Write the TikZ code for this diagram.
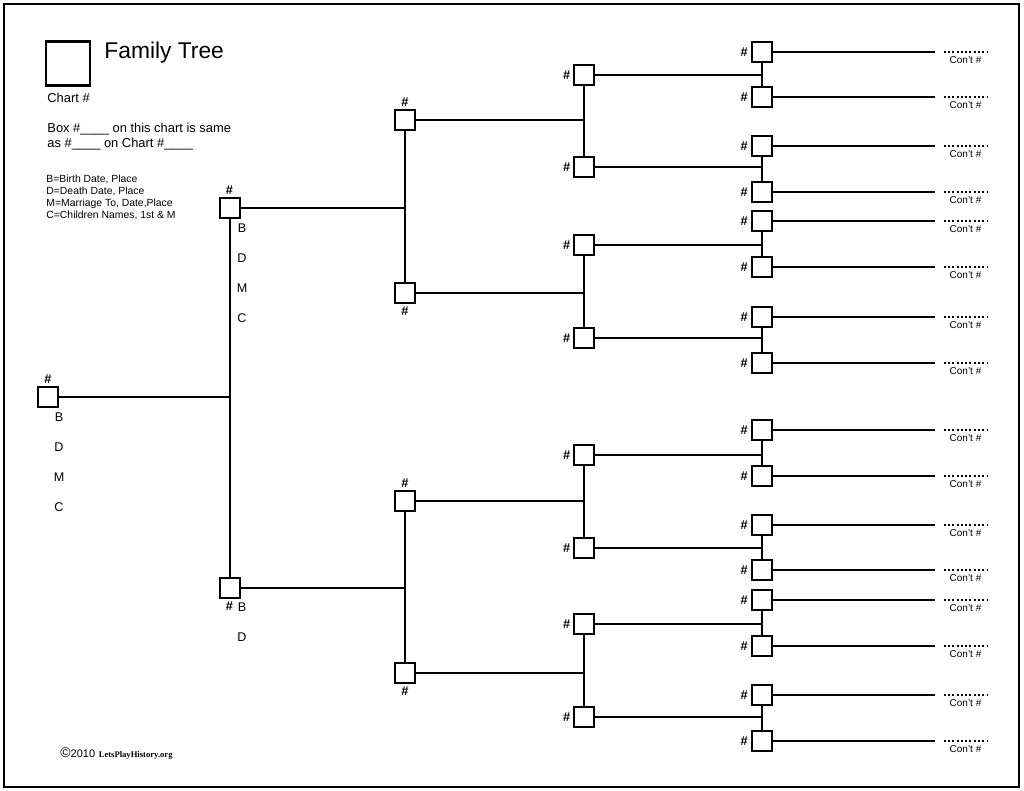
\documentclass[tikz,border=0pt]{standalone}
\usepackage{fontspec}
\setmainfont{Liberation Sans}
\newfontfamily\sitefont{Liberation Serif}
\usetikzlibrary{calc}
\tikzstyle{person}=[draw,line width=1pt,minimum size=10pt,inner sep=0pt]
\tikzstyle{hashmark}=[font=\fontsize{6.4}{7}\selectfont\bfseries,inner sep=1.2pt]
\tikzstyle{link}=[line width=1pt]
\tikzstyle{blank}=[line width=1pt,dash pattern=on 1pt off 1.15pt]
\tikzstyle{cont}=[font=\fontsize{5}{6}\selectfont,minimum width=21.5pt,inner xsep=0pt,inner ysep=2pt,anchor=north]
\tikzstyle{fact}=[font=\fontsize{6.3}{7}\selectfont,inner sep=0pt]
\tikzstyle{note}=[anchor=base west,inner sep=0pt,font=\fontsize{6.45}{7.7}\selectfont]
\newcommand{\newperson}[4][left]{% Syntax: [side of #] {name} {x} {y}
	\node[person,label={[hashmark]#1:\#}] (#2) at (#3,#4) {};
}
\newcommand{\newleaf}[2]{% Syntax: {number} {y}
	\newperson[left]{p#1}{761.5}{#2}
	\coordinate (e#1) at (935,#2);
	\node[cont] (c#1) at (965.5,#2) {Con't \#};
	\draw[blank] (c#1.north west) -- (c#1.north east);
	\draw[link] (p#1) -- (e#1);
}
\newcommand{\facts}[4]{% Syntax: {name} {x} {first y} {letters}
	\foreach \t [count=\k from 0] in {#4} {
	\node[fact] (#1\t) at (#2,#3+30*\k) {\t};
	}
}
\begin{document}
\begin{tikzpicture}[x=0.5pt,y=-0.5pt]
	\useasboundingbox (0,0) rectangle (1024,791);
	\draw[line width=1.2pt] (4,4) rectangle (1019,787);
	% heading
	\node[draw,line width=1.1pt,minimum size=22pt,inner sep=0pt] (chart) at (68,63.5) {};
	\node[note,font=\fontsize{11.4}{13}\selectfont] (title) at (104,59) {Family Tree};
	\node[note] (chartno) at (47,103) {Chart \#};
	\node[note] (same) at (47,133) {Box \#\_\_\_\_ on this chart is same};
	\node[note] (sameb) at (47,148) {as \#\_\_\_\_ on Chart \#\_\_\_\_};
	\foreach \line [count=\k from 0] in {{B=Birth Date, Place},{D=Death Date, Place},{M=Marriage To, Date,Place},{C=Children Names, 1st \& M}} {
	\node[note,font=\fontsize{5.2}{6.2}\selectfont] (key\k) at (46,183+11.7*\k) {\line};
	}
	% tree
	\newperson[above]{p1}{48}{397.5}
	\newperson[above]{p2}{229.5}{208}
	\newperson[below]{p3}{229.5}{588}
	\newperson[above]{p4}{405}{120}
	\newperson[below]{p5}{405}{293}
	\newperson[above]{p6}{405}{501}
	\newperson[below]{p7}{405}{673}
	\foreach \y [count=\i from 8] in {75,167,245,338,455,548,624,717} {
	\newperson[left]{p\i}{584}{\y}
	}
	\foreach \y [count=\i from 16] in {52,97,146,192,221,267,317,363,430,476,525,570,600,646,695,741} {
	\newleaf{\i}{\y}
	}
	\foreach \i in {1,...,15} {
	\pgfmathtruncatemacro{\a}{2*\i}
	\pgfmathtruncatemacro{\b}{2*\i+1}
	\draw[link] (p\a) -- (p\b);
	\draw[link] (p\i) -- (p\i -| p\a);
	}
	\facts{p1}{59}{417}{B,D,M,C}
	\facts{p2}{242}{228}{B,D,M,C}
	\facts{p3}{242}{607}{B,D}
	\node[note] (copy) at (60,757) {{\fontsize{7}{7}\selectfont ©}{\fontsize{5.5}{6}\selectfont 2010} {\sitefont\bfseries\fontsize{4.3}{5}\selectfont LetsPlayHistory.org}};
\end{tikzpicture}
\end{document}
